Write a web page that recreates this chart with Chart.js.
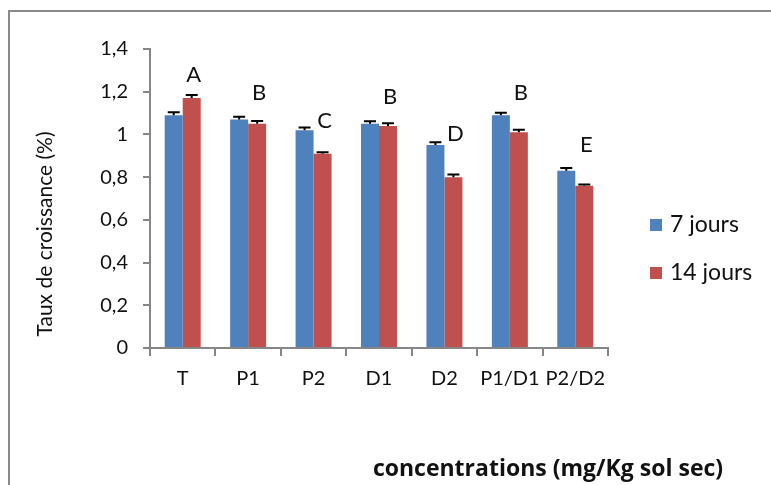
<!DOCTYPE html>
<html>
<head>
<meta charset="utf-8">
<title>Taux de croissance</title>
<script src="https://cdn.jsdelivr.net/npm/chart.js@4.4.1/dist/chart.umd.min.js"></script>
<style>
  html, body { margin: 0; padding: 0; background: #fff; overflow: hidden; }
  #cadre { position: absolute; left: 8px; top: 10px; width: 900px; height: 600px; border: 2px solid #8a8a8a; }
  #graphique { position: absolute; left: 0; top: 0; }
</style>
</head>
<body>
<div id="cadre"></div>
<canvas id="graphique" width="771" height="485"></canvas>
<script>
// concentrations testées
const categories = ['T', 'P1', 'P2', 'D1', 'D2', 'P1/D1', 'P2/D2'];
// taux de croissance moyen
const jours7 = [1.09, 1.07, 1.02, 1.05, 0.95, 1.09, 0.83];
const jours14 = [1.17, 1.05, 0.91, 1.04, 0.80, 1.01, 0.76];
// écart-type
const erreurs7 = [0.014, 0.013, 0.012, 0.012, 0.013, 0.012, 0.013];
const erreurs14 = [0.015, 0.013, 0.006, 0.012, 0.012, 0.012, 0.006];
// groupes statistiques et hauteur de la lettre
const lettres = ['A', 'B', 'C', 'B', 'D', 'B', 'E'];
const hauteurLettres = [1.278, 1.194, 1.064, 1.175, 1.002, 1.194, 0.95];
const yTicks = [0, 0.2, 0.4, 0.6, 0.8, 1, 1.2, 1.4];

const police = 'Lato, "Open Sans", sans-serif';
const gris = '#868686';
const texte = '#111';

// barres d'erreur (trait vertical + chapeau)
const barresErreur = {
  id: 'barresErreur',
  afterDatasetsDraw(chart) {
    const ctx = chart.ctx;
    const y = chart.scales.y;
    ctx.save();
    ctx.strokeStyle = '#000';
    ctx.lineWidth = 2;
    chart.data.datasets.forEach((ds, i) => {
      chart.getDatasetMeta(i).data.forEach((bar, j) => {
        const haut = y.getPixelForValue(ds.data[j] + ds.erreurs[j]);
        ctx.beginPath();
        ctx.moveTo(bar.x, bar.y);
        ctx.lineTo(bar.x, haut);
        ctx.moveTo(bar.x - 6, haut);
        ctx.lineTo(bar.x + 6, haut);
        ctx.stroke();
      });
    });
    ctx.restore();
  }
};

// lettres A..E, titres des axes et légende
const annotations = {
  id: 'annotations',
  afterDraw(chart) {
    const ctx = chart.ctx;
    const y = chart.scales.y;
    const rouges = chart.getDatasetMeta(1).data;
    ctx.save();
    ctx.fillStyle = texte;
    ctx.textAlign = 'center';
    ctx.textBaseline = 'middle';
    ctx.font = '22px ' + police;
    lettres.forEach((l, j) => {
      ctx.fillText(l, rouges[j].x + 2, y.getPixelForValue(hauteurLettres[j]));
    });

    // titre de l'axe Y
    ctx.save();
    ctx.translate(45, 234);
    ctx.rotate(-Math.PI / 2);
    ctx.font = '21px ' + police;
    ctx.fillText('Taux de croissance (%)', 0, 0);
    ctx.restore();

    // titre de l'axe X
    ctx.font = 'bold 23px "Open Sans", sans-serif';
    ctx.fillText('concentrations (mg/Kg sol sec)', 548, 469);

    // légende
    ctx.textAlign = 'left';
    ctx.font = '23px ' + police;
    chart.data.datasets.forEach((ds, i) => {
      const cy = 225 + i * 48;
      ctx.fillStyle = ds.backgroundColor;
      ctx.fillRect(650, cy - 6, 12, 12);
      ctx.fillStyle = texte;
      ctx.fillText(ds.label, 670, cy);
    });
    ctx.restore();
  }
};

new Chart(document.getElementById('graphique'), {
  type: 'bar',
  data: {
    labels: categories,
    datasets: [
      { label: '7 jours', data: jours7, erreurs: erreurs7, backgroundColor: '#4F81BD' },
      { label: '14 jours', data: jours14, erreurs: erreurs14, backgroundColor: '#C0504D' }
    ]
  },
  options: {
    responsive: false,
    animation: false,
    layout: { padding: { top: 49, right: 163, left: 0, bottom: 0 } },
    datasets: { bar: { categoryPercentage: 0.55, barPercentage: 1 } },
    plugins: { legend: { display: false }, tooltip: { enabled: false } },
    scales: {
      x: {
        afterFit(scale) { scale.height = 137; },
        grid: { offset: true, drawOnChartArea: false, tickLength: 8, color: gris, lineWidth: 2 },
        border: { color: gris, width: 2 },
        ticks: { font: { family: police, size: 20 }, color: texte, padding: 11, maxRotation: 0, autoSkip: false }
      },
      y: {
        min: 0,
        max: 1.4,
        afterFit(scale) { scale.width = 150; },
        afterBuildTicks(scale) { scale.ticks = yTicks.map(v => ({ value: v })); },
        grid: { drawOnChartArea: false, tickLength: 7, color: gris, lineWidth: 2 },
        border: { color: gris, width: 2 },
        ticks: {
          font: { family: police, size: 20 },
          color: texte,
          padding: 15,
          callback: v => String(Math.round(v * 10) / 10).replace('.', ',')
        }
      }
    }
  },
  plugins: [barresErreur, annotations]
});
</script>
</body>
</html>
